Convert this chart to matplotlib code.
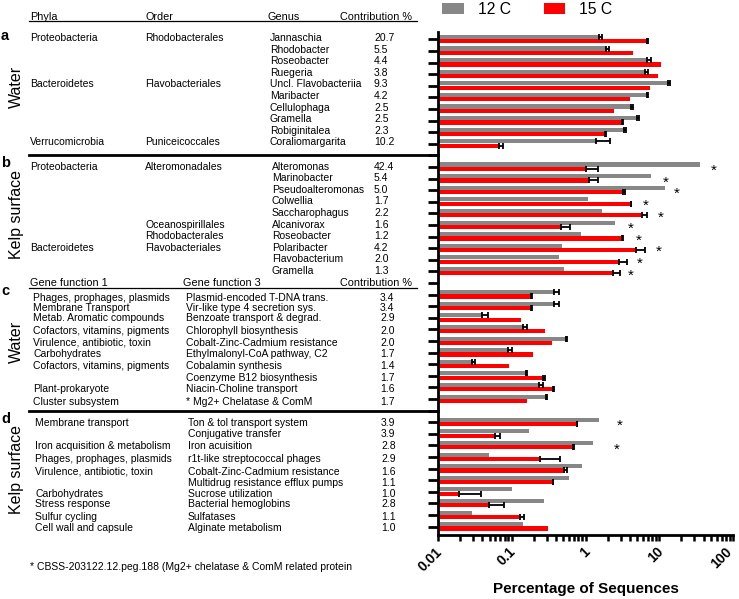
import numpy as np
import matplotlib.pyplot as plt
from matplotlib.lines import Line2D
from matplotlib.ticker import NullFormatter
from matplotlib.transforms import blended_transform_factory, ScaledTranslation

plt.rcParams['font.family'] = ['Liberation Sans', 'DejaVu Sans']

GREY = '#878787'
RED = '#ff0000'

# ---- a: water, taxa ----
phyla_a = ['Proteobacteria', '', '', '', 'Bacteroidetes', '', '', '', '', 'Verrucomicrobia']
order_a = ['Rhodobacterales', '', '', '', 'Flavobacteriales', '', '', '', '', 'Puniceicoccales']
genus_a = ['Jannaschia', 'Rhodobacter', 'Roseobacter', 'Ruegeria', 'Uncl. Flavobacteriia',
           'Maribacter', 'Cellulophaga', 'Gramella', 'Robiginitalea', 'Coraliomargarita']
contrib_a = ['20.7', '5.5', '4.4', '3.8', '9.3', '4.2', '2.5', '2.5', '2.3', '10.2']
grey_a = [1.52, 1.89, 6.73, 6.38, 13.2, 6.73, 4.08, 4.92, 3.31, 1.385]
grey_a_hi = [1.70, 2.09, 7.62, 7.07, 13.9, 7.07, 4.34, 5.29, 3.49, 2.15]
red_a = [6.74, 4.34, 10.4, 9.49, 7.45, 3.99, 2.42, 3.08, 1.84, 0.0676]
red_a_hi = [7.07, 0, 0, 0, 0, 0, 0, 3.25, 1.92, 0.0768]

# ---- b: kelp surface, taxa ----
phyla_b = ['Proteobacteria', '', '', '', '', '', '', 'Bacteroidetes', '', '']
order_b = ['Alteromonadales', '', '', '', '', 'Oceanospirillales', 'Rhodobacterales',
           'Flavobacteriales', '', '']
genus_b = ['Alteromonas', 'Marinobacter', 'Pseudoalteromonas', 'Colwellia', 'Saccharophagus',
           'Alcanivorax', 'Roseobacter', 'Polaribacter', 'Flavobacterium', 'Gramella']
contrib_b = ['42.4', '5.4', '5.0', '1.7', '2.2', '1.6', '1.2', '4.2', '2.0', '1.3']
grey_b = [35.5, 7.7, 11.9, 1.07, 1.70, 2.5, 0.86, 0.475, 0.441, 0.51]
grey_b_hi = [0, 0, 0, 0, 0, 0, 0, 0, 0, 0]
red_b = [1.03, 1.12, 3.18, 4.12, 5.76, 0.459, 3.08, 4.82, 2.87, 2.38]
red_b_hi = [1.46, 1.48, 3.41, 4.19, 6.73, 0.614, 3.25, 6.38, 3.6, 2.92]
star_b = [55, 12.2, 17.5, 6.52, 10.4, 4.08, 5.3, 9.97, 5.45, 4.08]

# ---- c: water, gene functions ----
func1_c = ['Phages, prophages, plasmids', 'Membrane Transport', 'Metab. Aromatic compounds',
           'Cofactors, vitamins, pigments', 'Virulence, antibiotic, toxin', 'Carbohydrates',
           'Cofactors, vitamins, pigments', '', 'Plant-prokaryote', 'Cluster subsystem']
func3_c = ['Plasmid-encoded T-DNA trans.', 'Vir-like type 4 secretion sys.',
           'Benzoate transport & degrad.', 'Chlorophyll biosynthesis',
           'Cobalt-Zinc-Cadmium resistance', 'Ethylmalonyl-CoA pathway, C2',
           'Cobalamin synthesis', 'Coenzyme B12 biosynthesis', 'Niacin-Choline transport',
           '* Mg2+ Chelatase & ComM']
contrib_c = ['3.4', '3.4', '2.9', '2.0', '2.0', '1.7', '1.4', '1.7', '1.6', '1.7']
grey_c = [0.377, 0.377, 0.039, 0.141, 0.537, 0.0898, 0.0292, 0.156, 0.234, 0.29]
grey_c_hi = [0.441, 0.441, 0.047, 0.162, 0.565, 0.1005, 0.032, 0.159, 0.262, 0.303]
red_c = [0.185, 0.185, 0.133, 0.282, 0.347, 0.196, 0.0925, 0.268, 0.365, 0.159]
red_c_hi = [0.188, 0.188, 0, 0, 0, 0, 0, 0.282, 0.377, 0]

# ---- d: kelp surface, gene functions ----
func1_d = ['Membrane transport', '', 'Iron acquisition & metabolism',
           'Phages, prophages, plasmids', 'Virulence, antibiotic, toxin', '',
           'Carbohydrates', 'Stress response', 'Sulfur cycling', 'Cell wall and capsule']
func3_d = ['Ton & tol transport system', 'Conjugative transfer', 'Iron acuisition',
           'r1t-like streptococcal phages', 'Cobalt-Zinc-Cadmium resistance',
           'Multidrug resistance efflux pumps', 'Sucrose utilization', 'Bacterial hemoglobins',
           'Sulfatases', 'Alginate metabolism']
contrib_d = ['3.9', '3.9', '2.8', '2.9', '1.6', '1.1', '1.0', '2.8', '1.1', '1.0']
grey_d = [1.52, 0.17, 1.28, 0.0491, 0.885, 0.601, 0.0996, 0.273, 0.0292, 0.141]
grey_d_hi = [0, 0, 0, 0, 0, 0, 0, 0, 0, 0]
red_d = [0.757, 0.0592, 0.682, 0.241, 0.51, 0.358, 0.0194, 0.0491, 0.129, 0.313]
red_d_hi = [0.766, 0.0692, 0.69, 0.45, 0.554, 0.365, 0.0379, 0.0785, 0.148, 0]
star_d = [2.92, 0, 2.63, 0, 0, 0, 0, 0, 0, 0]

xticks = [0.01, 0.1, 1, 10, 100]
xticklabels = ['0.01', '0.1', '1', '10', '100']

W, H = 739, 599
fig = plt.figure(figsize=(W / 100, H / 100), dpi=100)
ax = fig.add_axes([438 / W, 1 - 535 / H, 295 / W, (535 - 31.7) / H])
ax.set_xscale('log')

ypos = np.array([p * 11 + k for p in range(4) for k in range(10)], dtype=float)
grey = np.array(grey_a + grey_b + grey_c + grey_d)
grey_hi = np.array(grey_a_hi + grey_b_hi + grey_c_hi + grey_d_hi)
red = np.array(red_a + red_b + red_c + red_d)
red_hi = np.array(red_a_hi + red_b_hi + red_c_hi + red_d_hi)

gy = ypos - 0.2
ry = ypos + 0.17
ax.barh(gy, grey - 0.01, left=0.01, height=0.36, color=GREY, label='12 C')
ax.barh(ry, red - 0.01, left=0.01, height=0.36, color=RED, label='15 C')

for vals, his, yy in [(grey, grey_hi, gy), (red, red_hi, ry)]:
    m = his > 0
    err = [np.zeros(m.sum()), his[m] - vals[m]]
    ax.errorbar(vals[m], yy[m], xerr=err, fmt='none', ecolor='black',
                elinewidth=1.3, capsize=2, capthick=1.3)

# significance stars
for k, sx in enumerate(star_b):
    ax.text(sx, 11 + k + 0.35, '*', ha='center', va='center', fontsize=11, clip_on=False)
for k, sx in enumerate(star_d):
    if sx > 0:
        ax.text(sx, 33 + k + 0.35, '*', ha='center', va='center', fontsize=11, clip_on=False)

ax.set_xlim(0.01, 100)
ax.set_ylim(42.73, -0.655)
ax.set_yticks(np.arange(43))
ax.set_yticklabels([])
ax.set_xticks(xticks)
ax.set_xticklabels([])
ax.xaxis.set_minor_formatter(NullFormatter())
ax.tick_params(axis='y', length=7, width=2)
ax.tick_params(axis='x', which='both', length=4, width=1.8, pad=3)
for s in ['top', 'right']:
    ax.spines[s].set_visible(False)
for s in ['left', 'bottom']:
    ax.spines[s].set_linewidth(2)

# rotated tick labels, drawn as text so the last one can stay inside the figure
trx = blended_transform_factory(ax.transData, ax.transAxes)
for i, (v, s) in enumerate(zip(xticks, xticklabels)):
    dx = -8 if i == len(xticks) - 1 else -3
    off = ScaledTranslation(dx / 100, -9.5 / 100, fig.dpi_scale_trans)
    ax.text(v, 0, s, transform=trx + off, fontsize=10, fontweight='bold', rotation=45,
            ha='right', va='top', rotation_mode='anchor', clip_on=False)

fig.text(585.5 / W, 1 - 589 / H, 'Percentage of Sequences', fontsize=11, fontweight='bold',
         ha='center', va='center')

fig.legend(loc='upper left', bbox_to_anchor=(442 / W, 0.997), ncol=2, frameon=False,
           fontsize=11.3, handlelength=1.37, handleheight=0.72, handletextpad=0.9,
           columnspacing=2.1, borderpad=0, borderaxespad=0)

# ---- table on the left ----
tr = blended_transform_factory(fig.transFigure, ax.transData)
fs = 7.5
dy_a = -0.12
dy_b = -0.02
dy_c = [0.3, 0.15, 0.0, 0.14, 0.15, 0.15, 0.15, 0.16, 0.16, 0.3]
dy_d = [0.08, 0.05, 0.05, 0.18, 0.26, 0.25, 0.2, 0.08, 0.16, 0.1]


def put(xpx, y, s, **kw):
    if s:
        fig.text(xpx / W, y, s, transform=tr, va='center', fontsize=kw.pop('fontsize', fs), **kw)


def hline(x0, x1, y, lw):
    fig.add_artist(Line2D([x0 / W, x1 / W], [y, y], transform=tr, color='black', lw=lw))


for k in range(10):
    y = k + dy_a
    put(30, y, phyla_a[k]); put(145, y, order_a[k])
    put(270, y, genus_a[k]); put(374, y, contrib_a[k])
    y = 11 + k + dy_b
    put(30, y, phyla_b[k]); put(145, y, order_b[k])
    put(272, y, genus_b[k]); put(374, y, contrib_b[k])
    y = 22 + k + dy_c[k]
    put(33, y, func1_c[k]); put(186, y, func3_c[k]); put(380, y, contrib_c[k])
    y = 33 + k + dy_d[k]
    put(35, y, func1_d[k]); put(188, y, func3_d[k]); put(381, y, contrib_d[k])

for x, s in [(30, 'Phyla'), (145, 'Order'), (268, 'Genus'), (340, 'Contribution %')]:
    put(x, -1.95, s, fontsize=7.8)
hline(29, 417, -1.55, 0.9)
for x, s in [(30, 'Gene function 1'), (183, 'Gene function 3'), (340, 'Contribution %')]:
    put(x, 21.0, s, fontsize=7.8)
hline(29, 417, 21.45, 0.9)
hline(29, 438, 10, 2)
hline(29, 438, 32, 2)

for y, s in [(0, 'a'), (11, 'b'), (22, 'c'), (33, 'd')]:
    put(1, y - 0.3, s, fontsize=10.5, fontweight='bold')
for y, s in [(4.1, 'Water'), (15.1, 'Kelp surface'), (26.1, 'Water'), (37.1, 'Kelp surface')]:
    put(16.5, y, s, fontsize=11.5, rotation=90, ha='center')

fig.text(30 / W, 1 - 566.7 / H, '* CBSS-203122.12.peg.188 (Mg2+ chelatase & ComM related protein',
         fontsize=7.5, va='center')

fig.savefig('out.png', dpi=100)
